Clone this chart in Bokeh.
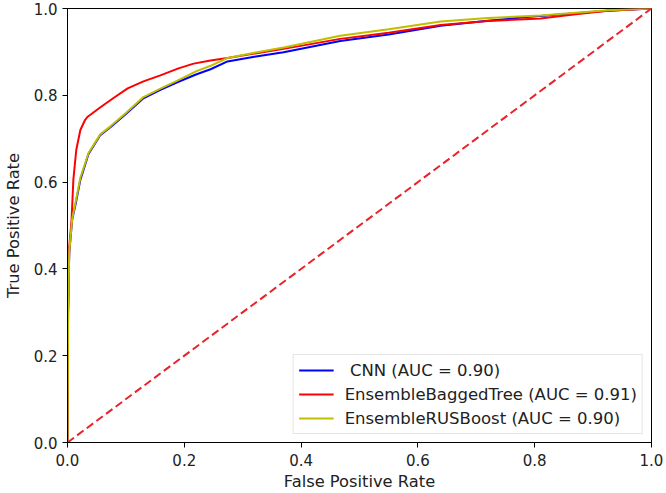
from bokeh.plotting import figure
from bokeh.models import Range1d, Legend, LegendItem, FixedTicker, PrintfTickFormatter
from bokeh.embed import file_html
from bokeh.resources import INLINE

# ROC data
cnn_fpr = [0, 0.001, 0.003, 0.008, 0.014, 0.022, 0.036, 0.056, 0.074, 0.10, 0.13, 0.16, 0.188, 0.22, 0.245, 0.274, 0.32, 0.37, 0.467, 0.55, 0.639, 0.72, 0.81, 0.925, 1.0]
cnn_tpr = [0, 0.30, 0.437, 0.513, 0.55, 0.605, 0.665, 0.708, 0.727, 0.757, 0.793, 0.813, 0.830, 0.848, 0.860, 0.878, 0.889, 0.899, 0.925, 0.940, 0.960, 0.972, 0.983, 0.995, 1.0]

bag_fpr = [0, 0.001, 0.003, 0.007, 0.010, 0.015, 0.022, 0.030, 0.034, 0.057, 0.080, 0.103, 0.13, 0.159, 0.19, 0.216, 0.245, 0.274, 0.37, 0.467, 0.55, 0.639, 0.72, 0.81, 0.87, 0.925, 1.0]
bag_tpr = [0, 0.30, 0.45, 0.513, 0.605, 0.674, 0.720, 0.743, 0.750, 0.773, 0.795, 0.816, 0.832, 0.846, 0.862, 0.873, 0.880, 0.886, 0.907, 0.930, 0.944, 0.962, 0.971, 0.977, 0.987, 0.995, 1.0]

rus_fpr = [0, 0.001, 0.003, 0.008, 0.014, 0.022, 0.036, 0.056, 0.074, 0.10, 0.13, 0.16, 0.188, 0.22, 0.245, 0.274, 0.32, 0.37, 0.467, 0.55, 0.639, 0.72, 0.81, 0.925, 1.0]
rus_tpr = [0, 0.30, 0.44, 0.515, 0.555, 0.61, 0.667, 0.710, 0.729, 0.759, 0.796, 0.816, 0.834, 0.855, 0.868, 0.886, 0.898, 0.910, 0.937, 0.952, 0.970, 0.978, 0.984, 0.996, 1.0]

diag_x = [0, 1]
diag_y = [0, 1]

labels = [" CNN (AUC = 0.90)", "EnsembleBaggedTree (AUC = 0.91)", "EnsembleRUSBoost (AUC = 0.90)"]
ticks = [0.0, 0.2, 0.4, 0.6, 0.8, 1.0]

FONT = "DejaVu Sans"

p = figure(width=666, height=493, output_backend="svg", toolbar_location=None,
           x_range=Range1d(0, 1), y_range=Range1d(0, 1),
           min_border_left=67, min_border_right=15, min_border_top=8, min_border_bottom=50)

p.xgrid.visible = False
p.ygrid.visible = False
p.outline_line_color = "black"
p.outline_line_width = 1
p.background_fill_color = "white"
p.border_fill_color = "white"

for ax in (p.xaxis, p.yaxis):
    ax.ticker = FixedTicker(ticks=ticks)
    ax.formatter = PrintfTickFormatter(format="%.1f")
    ax.major_tick_in = 0
    ax.major_tick_out = 5
    ax.minor_tick_line_color = None
    ax.axis_line_color = "black"
    ax.major_tick_line_color = "black"
    ax.major_label_text_font = FONT
    ax.major_label_text_font_size = "15px"
    ax.major_label_text_color = "#222222"
    ax.axis_label_text_font = FONT
    ax.axis_label_text_font_size = "16.3px"
    ax.axis_label_text_font_style = "normal"
    ax.axis_label_text_color = "#222222"

p.xaxis.major_label_standoff = 6
p.xaxis.axis_label_standoff = 3
p.yaxis.major_label_standoff = 5
p.yaxis.axis_label_standoff = 8

p.xaxis.axis_label = "False Positive Rate"
p.yaxis.axis_label = "True Positive Rate"

r1 = p.line(cnn_fpr, cnn_tpr, line_color="#0000ff", line_width=2)
r2 = p.line(bag_fpr, bag_tpr, line_color="#ff0000", line_width=2)
r3 = p.line(rus_fpr, rus_tpr, line_color="#bfbf00", line_width=2)
p.line(diag_x, diag_y, line_color="#e8242a", line_width=2, line_dash="8 4")

legend = Legend(items=[LegendItem(label=labels[0], renderers=[r1]),
                       LegendItem(label=labels[1], renderers=[r2]),
                       LegendItem(label=labels[2], renderers=[r3])],
                location="bottom_right")
legend.label_text_font = FONT
legend.label_text_font_size = "16.5px"
legend.label_text_color = "#222222"
legend.glyph_width = 35
legend.glyph_height = 20
legend.label_height = 20
legend.label_standoff = 11
legend.spacing = 4
legend.padding = 5
legend.margin = 8
legend.border_line_color = "#cccccc"
legend.border_line_width = 1
legend.background_fill_alpha = 0.9
p.add_layout(legend, "center")

open("out.html", "w").write(file_html(p, INLINE))
